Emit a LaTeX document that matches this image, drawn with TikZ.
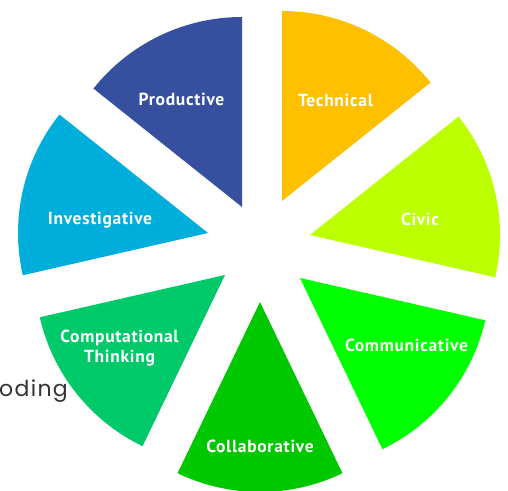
\documentclass[tikz,border=0pt]{standalone}
\usepackage{fontspec}
\newfontfamily\labelfont{PT Sans}[LetterSpace=4]
\newfontfamily\codingfont{Poppins}[LetterSpace=6]
\definecolor{prodblue}{HTML}{36509F}
\definecolor{techyellow}{HTML}{FFC000}
\definecolor{civiclime}{HTML}{BBFF00}
\definecolor{commgreen}{HTML}{00FF00}
\definecolor{collabgreen}{HTML}{00C800}
\definecolor{compgreen}{HTML}{00C96A}
\definecolor{investblue}{HTML}{00AEDB}
\definecolor{codinggray}{HTML}{333333}
\begin{document}
\begin{tikzpicture}[x=1pt,y=1pt,
                wedge/.style={draw=none},
                slice label/.style={text=white,align=center,inner sep=0pt,
                  font=\labelfont\bfseries\fontsize{17.5}{20}\selectfont}]
  \useasboundingbox (0,0) rectangle (508,490);

  % apex of each slice
  \coordinate (prod)   at (242,283);
  \coordinate (tech)   at (282,289);
  \coordinate (civic)  at (310,255);
  \coordinate (comm)   at (300,212);
  \coordinate (collab) at (260,188);
  \coordinate (comp)   at (225,215);
  \coordinate (invest) at (208,257);

  % slices, 360/7 degrees each
  \fill[wedge,prodblue]    (prod)   -- ++(90:190)      arc (90:141.43:190)      -- cycle;
  \fill[wedge,techyellow]  (tech)   -- ++(38.57:190)   arc (38.57:90:190)       -- cycle;
  \fill[wedge,civiclime]   (civic)  -- ++(-12.86:190)  arc (-12.86:38.57:190)   -- cycle;
  \fill[wedge,commgreen]   (comm)   -- ++(-64.29:190)  arc (-64.29:-12.86:190)  -- cycle;
  \fill[wedge,collabgreen] (collab) -- ++(-115.71:190) arc (-115.71:-64.29:190) -- cycle;
  \fill[wedge,compgreen]   (comp)   -- ++(192.86:190)  arc (192.86:244.29:190)  -- cycle;
  \fill[wedge,investblue]  (invest) -- ++(141.43:190)  arc (141.43:192.86:190)  -- cycle;

  \node[slice label] (prodtext)   at (181.5,390.5) {Productive};
  \node[slice label] (techtext)   at (335.5,390)   {Technical};
  \node[slice label] (civictext)  at (420,271)     {Civic};
  \node[slice label] (commtext)   at (406.5,145)   {Communicative};
  \node[slice label] (collabtext) at (260,44)      {Collaborative};
  \node[slice label] (comptext)   at (119.5,142)   {Computational\\Thinking};
  \node[slice label] (investtext) at (100,270)     {Investigative};

  \node[anchor=base west,inner sep=0pt,text=codinggray,
        font=\codingfont\fontsize{22}{24}\selectfont] (coding) at (-1,94) {oding};
\end{tikzpicture}
\end{document}
